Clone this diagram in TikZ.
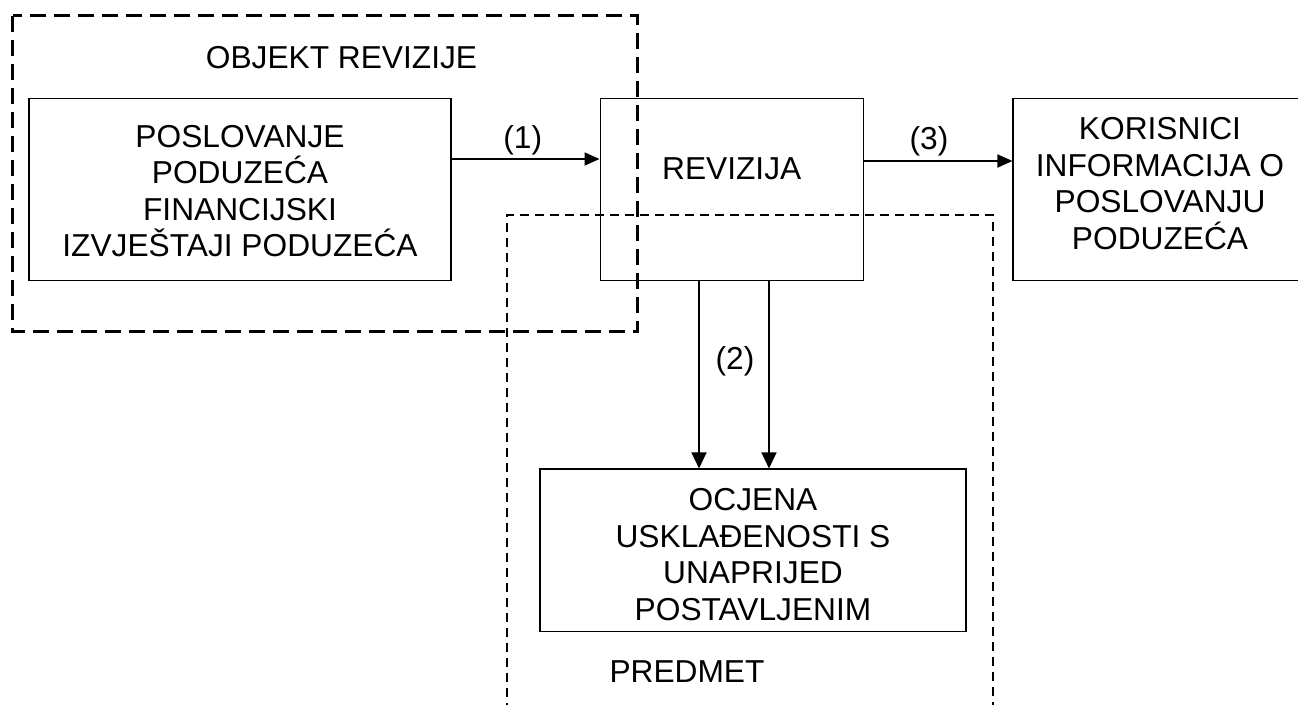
\documentclass[tikz,border=0pt]{standalone}
\usepackage{fontspec}
\setmainfont{Liberation Sans}
\usetikzlibrary{arrows.meta,calc}
\tikzset{
  txt/.style={font=\fontsize{31.7pt}{36.5pt}\selectfont, inner sep=0pt, align=center, anchor=center},
  box/.style={draw, line width=1.1pt, inner sep=0pt},
  arr/.style={line width=1.8pt, -{Triangle[length=15pt,width=13pt]}},
  darr/.style={line width=1.3pt, -{Triangle[length=16pt,width=15pt]}},
  bigdash/.style={line width=2.6pt, dash pattern=on 16pt off 8pt},
  smalldash/.style={line width=1.1pt, dash pattern=on 9pt off 6pt}
}
\begin{document}
\begin{tikzpicture}[x=1pt,y=-1pt]
\useasboundingbox (0,0) rectangle (1298,704);
% boxes
\node[box, minimum width=422pt, minimum height=182pt] (b1) at (240,189.5) {};
\node[box, minimum width=263.3pt, minimum height=182pt] (rev) at (731.7,189.5) {};
\node[box, minimum width=294pt, minimum height=182pt] (kor) at (1160,189.5) {};
\node[box, minimum width=426pt, minimum height=162.5pt] (ocj) at (753,550.25) {};
% texts
\node[txt] (b1t) at (240,191) {POSLOVANJE\\PODUZEĆA\\FINANCIJSKI\\IZVJEŠTAJI PODUZEĆA};
\node[txt] (revt) at (731.7,168.5) {REVIZIJA};
\node[txt] (kort) at (1160,183.5) {KORISNICI\\INFORMACIJA O\\POSLOVANJU\\PODUZEĆA};
\node[txt] (ocjt) at (753,554.5) {OCJENA\\USKLAĐENOSTI S\\UNAPRIJED\\POSTAVLJENIM};
\node[txt] (obj) at (341.5,57.5) {OBJEKT REVIZIJE};
\node[txt] (pred) at (687,672) {PREDMET};
\node[txt] (l1) at (522.7,140) {(1)};
\node[txt] (l3) at (929,141.7) {(3)};
\node[txt] (l2) at (735,361.7) {(2)};
% dashed frames
\draw[bigdash] (12.7,15.7) rectangle (637.5,331.7);
\draw[smalldash] (507,712) -- (507,215) -- (993,215) -- (993,712);
% connectors
\draw[arr] ([yshift=30.5pt]b1.east) -- ([yshift=30.5pt]rev.west);
\draw[arr] ([yshift=28.5pt]rev.east) -- ([yshift=28.5pt]kor.west);
\coordinate (d1) at ($(rev.south)+(-32.7,0)$);
\coordinate (d2) at ($(rev.south)+(37.3,0)$);
\draw[darr] (d1) -- (d1 |- ocj.north);
\draw[darr] (d2) -- (d2 |- ocj.north);
\end{tikzpicture}
\end{document}
